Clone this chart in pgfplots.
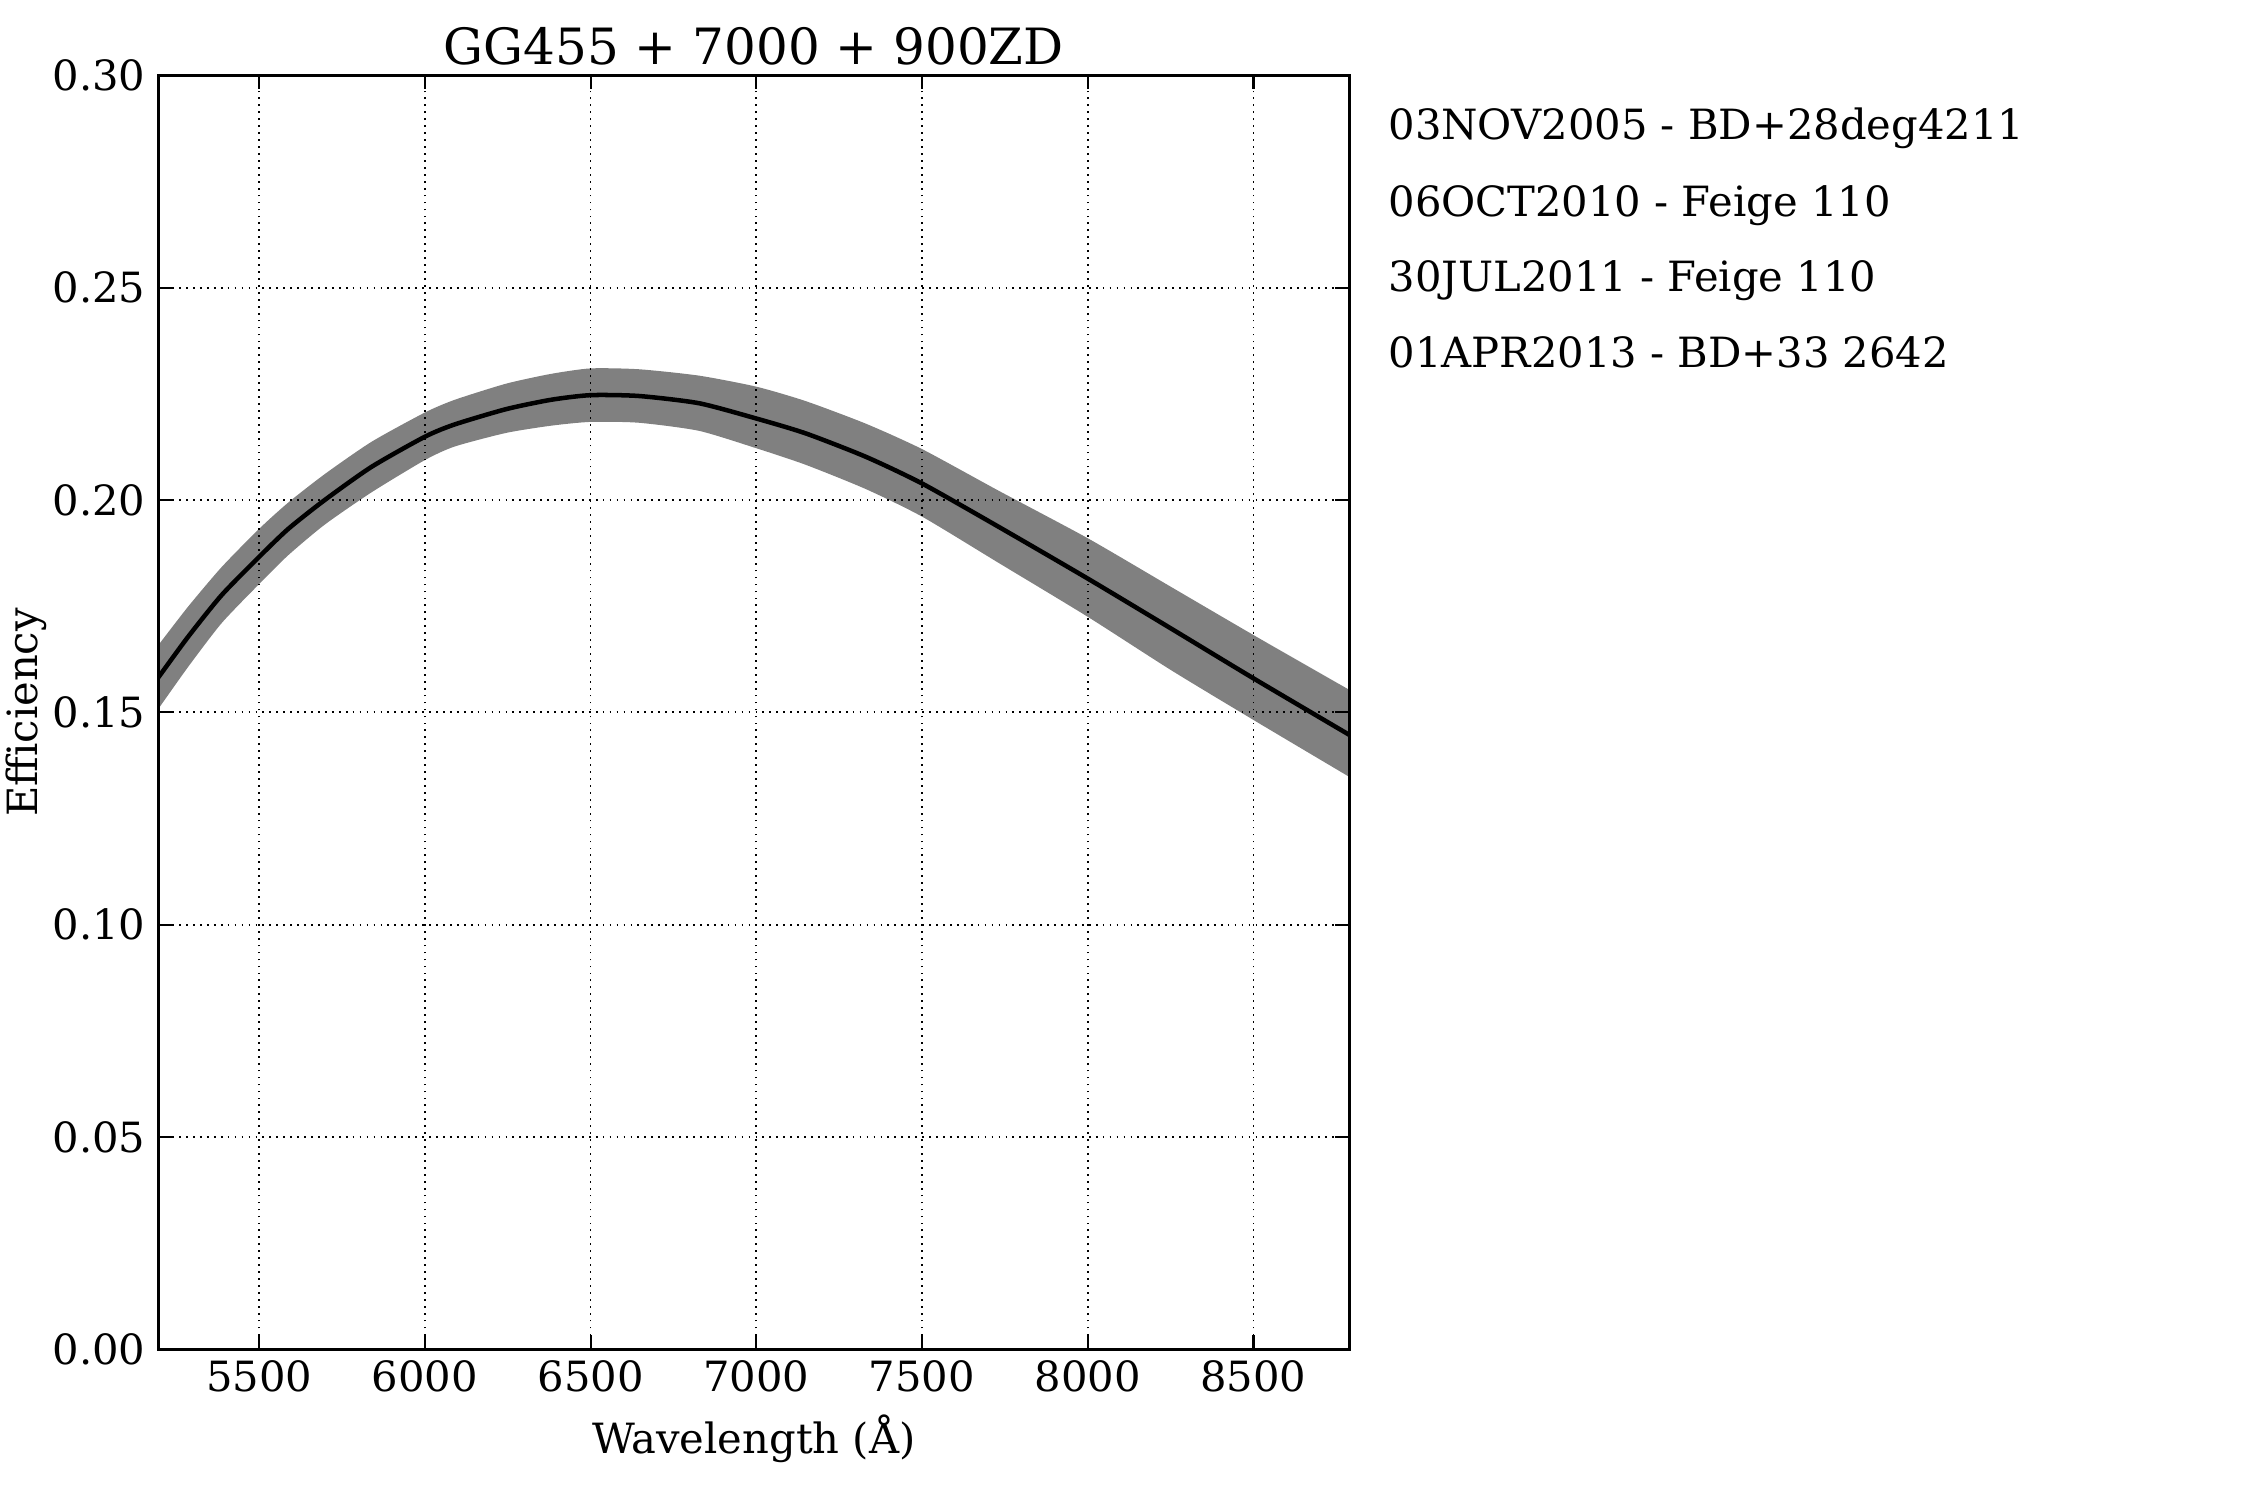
\documentclass[border=0pt]{standalone}
\usepackage{fontspec}
\setmainfont{DejaVu Serif}
\usepackage{pgfplots}
\usepackage{pgfplotstable}
\pgfplotsset{compat=1.18}
\usepgfplotslibrary{fillbetween}

\pgfplotstableread{
x    c      u      l
5196 0.1582 0.1658 0.1508
5286 0.1678 0.1749 0.1607
5387 0.1776 0.1842 0.1710
5500 0.1866 0.1932 0.1802
5588 0.1932 0.1994 0.1870
5698 0.2000 0.2061 0.1942
5839 0.2078 0.2137 0.2018
6000 0.2149 0.2206 0.2094
6090 0.2178 0.2236 0.2126
6245 0.2214 0.2274 0.2158
6380 0.2236 0.2297 0.2175
6500 0.2247 0.2310 0.2184
6646 0.2245 0.2308 0.2182
6827 0.2228 0.2293 0.2163
7000 0.2192 0.2267 0.2122
7149 0.2157 0.2233 0.2083
7330 0.2102 0.2180 0.2026
7500 0.2039 0.2120 0.1961
7731 0.1937 0.2022 0.1852
8000 0.1815 0.1910 0.1725
8250 0.1698 0.1796 0.1600
8500 0.1580 0.1682 0.1482
8789 0.1447 0.1553 0.1348
}\effdata

\begin{document}
\begin{tikzpicture}
\begin{axis}[
  at={(0,0)}, anchor=south west,
  scale only axis, width=343.0pt, height=366.86pt,
  xmin=5196, xmax=8789, ymin=0, ymax=0.30,
  xtick={5500,6000,6500,7000,7500,8000,8500},
  ytick={0,0.05,0.1,0.15,0.2,0.25,0.3},
  minor tick num=0,
  scaled y ticks=false, scaled x ticks=false,
  /pgf/number format/assume math mode=true,
  xticklabel style={/pgf/number format/1000 sep={}, anchor=base, yshift=-12.24pt},
  yticklabel style={/pgf/number format/.cd, fixed, fixed zerofill, precision=2, /tikz/.cd, anchor=east, inner sep=0pt, xshift=-3.54pt},
  every tick label/.append style={font=\fontsize{12}{14}\selectfont},
  tick align=inside,
  major tick length=4pt,
  every tick/.style={black, line width=0.6pt},
  axis line style={line width=1pt},
  grid=major,
  major grid style={black, line width=0.5pt, dash pattern=on 0.5pt off 1.5pt},
  axis on top,
  title={GG455 + 7000 + 900ZD},
  title style={font=\fontsize{14.4}{17}\selectfont, at={(axis description cs:0.5,1.0082)}, anchor=base, yshift=-6pt, inner sep=0pt},
  xlabel={Wavelength (Å)},
  xlabel style={font=\fontsize{12}{14}\selectfont, at={(axis description cs:0.5,-0.0815)}, anchor=base, inner sep=0pt},
  ylabel={Efficiency},
  ylabel style={font=\fontsize{12}{14}\selectfont, at={(axis description cs:-0.1016,0.5)}, anchor=base, inner sep=0pt},
]
\addplot[name path=upper, draw=none, forget plot, smooth, tension=0.4] table[x=x,y=u]{\effdata};
\addplot[name path=lower, draw=none, forget plot, smooth, tension=0.4] table[x=x,y=l]{\effdata};
\addplot[fill=gray, draw=none, forget plot] fill between[of=upper and lower];
\addplot[black, line width=1.3pt, smooth, tension=0.4] table[x=x,y=c]{\effdata};
\end{axis}
\begin{scope}[every node/.style={anchor=base west, inner sep=0pt, font=\fontsize{12}{14}\selectfont}]
\node at (354.1pt,348.3pt) {03NOV2005 - BD+28deg4211};
\node at (354.1pt,326.2pt) {06OCT2010 - Feige 110};
\node at (354.1pt,304.5pt) {30JUL2011 - Feige 110};
\node at (354.1pt,282.7pt) {01APR2013 - BD+33 2642};
\end{scope}
\pgfresetboundingbox
\useasboundingbox (-45.59pt,-43.43pt) rectangle (602.41pt,388.58pt);
\end{tikzpicture}
\end{document}
